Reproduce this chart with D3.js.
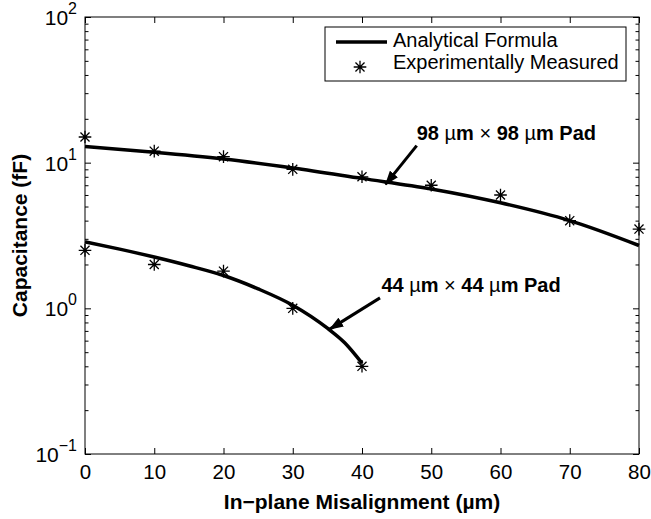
<!DOCTYPE html>
<html>
<head>
<meta charset="utf-8">
<script src="https://cdn.jsdelivr.net/npm/d3@7"></script>
<style>
  body { margin: 0; background: #fff; }
  svg { display: block; font-family: "Liberation Sans", Arial, sans-serif; }
</style>
</head>
<body>
<svg id="chart" width="651" height="519"></svg>
<script>
// misalignment (um) at which the measurements were taken
var measuredX = [0, 10, 20, 30, 40, 50, 60, 70, 80];
var measured98 = [15, 12, 11, 9, 8, 7, 6, 4, 3.5];
var measuredX44 = [0, 10, 20, 30, 40];
var measured44 = [2.5, 2.0, 1.8, 1.0, 0.4];

// analytical curves
var formulaX98 = [0, 10, 20, 30, 40, 50, 60, 70, 80];
var formula98 = [12.9, 11.8, 10.6, 9.2, 7.8, 6.6, 5.3, 4.0, 2.7];
var formulaX44 = [0, 5, 10, 15, 20, 25, 30, 35, 37.5, 40];
var formula44 = [2.86, 2.55, 2.25, 1.96, 1.68, 1.36, 1.05, 0.73, 0.58, 0.42];

var xTicks = [0, 10, 20, 30, 40, 50, 60, 70, 80];
var yExponents = [-1, 0, 1, 2];
var legendLabels = ["Analytical Formula", "Experimentally Measured"];

// annotations in data units: text anchor, arrow tail, arrow tip
var notes = [
    { size: "98", text: [47.9, 14.3], tail: [47.9, 13.1], tip: [43.4, 7.1] },
    { size: "44", text: [42.8, 1.30], tail: [42.6, 1.18], tip: [35.35, 0.72] }
];

var svg = d3.select("#chart");
// note: "top" is taken by window.top, so plot edges get a prefix
var pLeft = 85, pRight = 639, pTop = 17, pBottom = 454;

var xscale = d3.scaleLinear().domain([0, 80]).range([pLeft, pRight]);
var yscale = d3.scaleLog().domain([0.1, 100]).range([pBottom, pTop]);

var majors = yExponents.map(function(e) { return Math.pow(10, e); });
var minors = [];
yExponents.slice(0, -1).forEach(function(e) {
    for (var k = 2; k < 10; k++) minors.push(k * Math.pow(10, e));
});

// frame
svg.append("rect")
    .attr("x", pLeft).attr("y", pTop)
    .attr("width", pRight - pLeft).attr("height", pBottom - pTop)
    .attr("fill", "none").attr("stroke", "#000").attr("stroke-width", 1);

function styleAxis(g) {
    g.select(".domain").remove();
    g.selectAll("line").attr("stroke", "#000");
}

// x axes (ticks point inward)
svg.append("g")
    .attr("transform", "translate(0," + pBottom + ")")
    .call(d3.axisBottom(xscale).tickValues(xTicks).tickSize(-6).tickPadding(10))
    .call(styleAxis)
    .selectAll("text")
    .attr("font-size", 20.5).attr("font-family", "Liberation Sans, Arial, sans-serif")
    .attr("fill", "#000");

svg.append("g")
    .attr("transform", "translate(0," + pTop + ")")
    .call(d3.axisTop(xscale).tickValues(xTicks).tickSize(-6).tickFormat(""))
    .call(styleAxis);

// y axes, major and minor ticks on both sides
svg.append("g")
    .attr("transform", "translate(" + pLeft + ",0)")
    .call(d3.axisLeft(yscale).tickValues(majors).tickSize(-6).tickFormat(""))
    .call(styleAxis);
svg.append("g")
    .attr("transform", "translate(" + pLeft + ",0)")
    .call(d3.axisLeft(yscale).tickValues(minors).tickSize(-3.5).tickFormat(""))
    .call(styleAxis);
svg.append("g")
    .attr("transform", "translate(" + pRight + ",0)")
    .call(d3.axisRight(yscale).tickValues(majors).tickSize(-6).tickFormat(""))
    .call(styleAxis);
svg.append("g")
    .attr("transform", "translate(" + pRight + ",0)")
    .call(d3.axisRight(yscale).tickValues(minors).tickSize(-3.5).tickFormat(""))
    .call(styleAxis);

// y tick labels as 10^n
var ylab = svg.append("g").selectAll("text")
    .data(yExponents)
    .enter().append("text")
    .attr("x", pLeft - 8)
    .attr("y", function(e) { return yscale(Math.pow(10, e)) + 8; })
    .attr("text-anchor", "end")
    .attr("font-size", 21);
ylab.append("tspan").text("10");
ylab.append("tspan")
    .attr("font-size", 16)
    .attr("dy", -11)
    .text(function(e) { return e < 0 ? "\u2212" + (-e) : String(e); });

// axis titles
svg.append("text")
    .attr("x", (pLeft + pRight) / 2).attr("y", 509)
    .attr("text-anchor", "middle")
    .attr("font-size", 21).attr("font-weight", "bold")
    .text("In\u2212plane Misalignment (\u00b5m)");

svg.append("text")
    .attr("transform", "translate(27," + ((pTop + pBottom) / 2) + ") rotate(-90)")
    .attr("text-anchor", "middle")
    .attr("font-size", 21).attr("font-weight", "bold")
    .text("Capacitance (fF)");

// analytical curves
var line = d3.line()
    .x(function(d) { return xscale(d[0]); })
    .y(function(d) { return yscale(d[1]); })
    .curve(d3.curveMonotoneX);

[d3.zip(formulaX98, formula98), d3.zip(formulaX44, formula44)].forEach(function(pts) {
    svg.append("path")
        .attr("d", line(pts))
        .attr("fill", "none")
        .attr("stroke", "#000")
        .attr("stroke-width", 3.5);
});

// star markers
function star(r) {
    var a = r * 0.72;
    return "M" + (-r) + ",0H" + r + "M0," + (-r) + "V" + r +
        "M" + (-a) + "," + (-a) + "L" + a + "," + a +
        "M" + (-a) + "," + a + "L" + a + "," + (-a);
}
var points = d3.zip(measuredX, measured98).concat(d3.zip(measuredX44, measured44));
svg.append("g").selectAll("path")
    .data(points)
    .enter().append("path")
    .attr("transform", function(d) {
        return "translate(" + xscale(d[0]) + "," + yscale(d[1]) + ")";
    })
    .attr("d", star(6.3))
    .attr("fill", "none")
    .attr("stroke", "#000")
    .attr("stroke-width", 1.3);

// annotations with arrows
svg.append("defs").append("marker")
    .attr("id", "head")
    .attr("viewBox", "0 0 14 10")
    .attr("refX", 13).attr("refY", 5)
    .attr("markerWidth", 4.8).attr("markerHeight", 3.5)
    .attr("markerUnits", "strokeWidth")
    .attr("orient", "auto")
    .append("path")
    .attr("d", "M0,0L14,5L0,10z")
    .attr("fill", "#000");

notes.forEach(function(n) {
    svg.append("line")
        .attr("x1", xscale(n.tail[0])).attr("y1", yscale(n.tail[1]))
        .attr("x2", xscale(n.tip[0])).attr("y2", yscale(n.tip[1]))
        .attr("stroke", "#000").attr("stroke-width", 3)
        .attr("marker-end", "url(#head)");
    var t = svg.append("text")
        .attr("x", xscale(n.text[0])).attr("y", yscale(n.text[1]))
        .attr("font-size", 20).attr("font-weight", "bold");
    t.append("tspan").text(n.size + " ");
    t.append("tspan").attr("font-weight", "normal").text("\u00b5");
    t.append("tspan").text("m ");
    t.append("tspan").attr("font-weight", "normal").text("\u00d7");
    t.append("tspan").text(" " + n.size + " ");
    t.append("tspan").attr("font-weight", "normal").text("\u00b5");
    t.append("tspan").text("m Pad");
});

// legend
var legend = svg.append("g").attr("transform", "translate(325,27)");
legend.append("rect")
    .attr("width", 301).attr("height", 54)
    .attr("fill", "#fff").attr("stroke", "#000").attr("stroke-width", 1);
legend.append("line")
    .attr("x1", 11).attr("x2", 62).attr("y1", 15).attr("y2", 15)
    .attr("stroke", "#000").attr("stroke-width", 3.5);
legend.append("path")
    .attr("transform", "translate(35,40)")
    .attr("d", star(6.3))
    .attr("fill", "none").attr("stroke", "#000").attr("stroke-width", 1.3);
legend.selectAll("text.lab")
    .data(legendLabels)
    .enter().append("text")
    .attr("class", "lab")
    .attr("x", 68)
    .attr("y", function(d, i) { return 20 + i * 21.5; })
    .attr("font-size", 20)
    .text(function(d) { return d; });
</script>
</body>
</html>
